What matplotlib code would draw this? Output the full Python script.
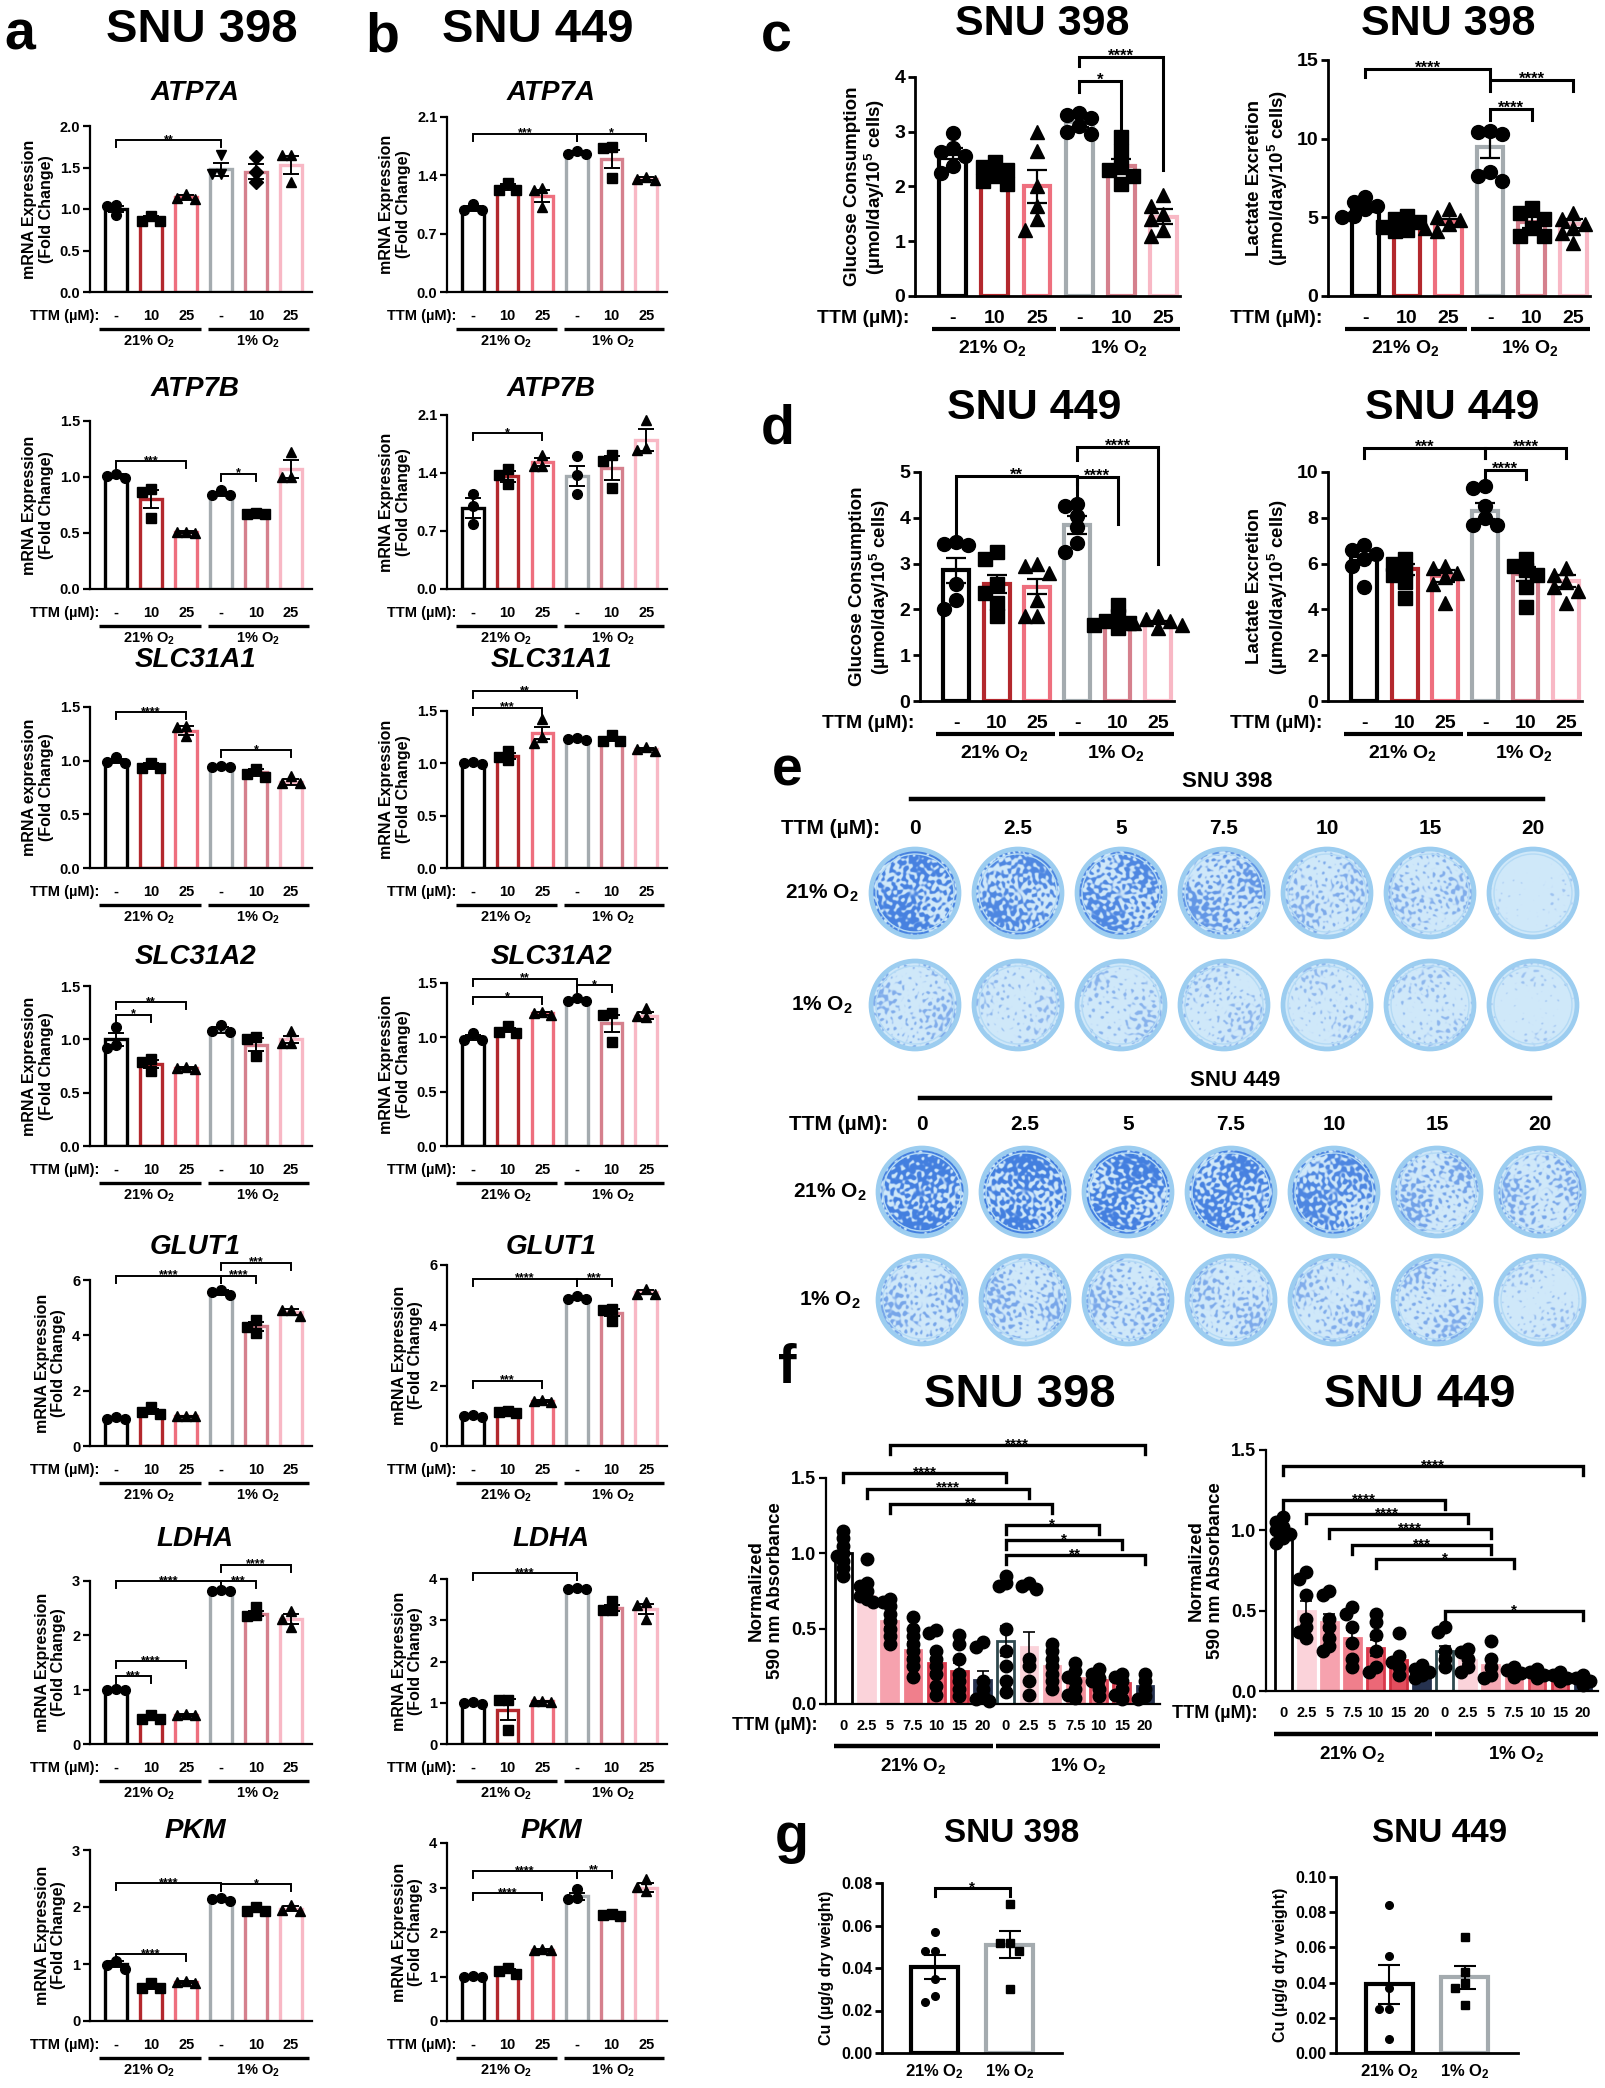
import numpy as np
import matplotlib
matplotlib.use("Agg")
import matplotlib.pyplot as plt
import matplotlib.transforms as mtrans
from matplotlib.patches import Circle
from matplotlib.colors import to_rgb

W, H = 1605, 2088
WIDE = ['Liberation Sans', 'DejaVu Sans']
NARROW = WIDE
plt.rcParams['font.family'] = WIDE
plt.rcParams['font.weight'] = 'bold'
plt.rcParams['axes.labelweight'] = 'bold'
plt.rcParams['mathtext.default'] = 'regular'

# ======================= DATA =======================
ttm_mrna = ['-', '10', '25', '-', '10', '25']
o2_labels = ['21% O$_2$', '1% O$_2$']
ttm_doses = ['0', '2.5', '5', '7.5', '10', '15', '20']

# ---- panel a: SNU 398 ----
atp7a_398_mean = [1.00, 0.88, 1.14, 1.48, 1.45, 1.53]
atp7a_398_sem = [0.04, 0.03, 0.03, 0.08, 0.09, 0.11]
atp7a_398_pts = [[1.05, 1.04, 0.93], [0.92, 0.86, 0.86], [1.18, 1.13, 1.12],
                 [1.65, 1.42, 1.42], [1.63, 1.45, 1.33], [1.65, 1.65, 1.33]]
atp7a_398_sig = [(0, 3, 1.83, '**')]

atp7b_398_mean = [1.01, 0.80, 0.51, 0.85, 0.67, 1.07]
atp7b_398_sem = [0.02, 0.08, 0.01, 0.02, 0.01, 0.08]
atp7b_398_pts = [[1.03, 1.01, 0.99], [0.89, 0.87, 0.63], [0.51, 0.51, 0.50],
                 [0.88, 0.84, 0.84], [0.68, 0.67, 0.67], [1.22, 1.00, 1.00]]
atp7b_398_sig = [(0, 2, 1.14, '***'), (3, 4, 1.03, '*')]

slc31a1_398_mean = [1.00, 0.95, 1.28, 0.94, 0.89, 0.80]
slc31a1_398_sem = [0.02, 0.03, 0.04, 0.01, 0.03, 0.03]
slc31a1_398_pts = [[1.03, 0.99, 0.98], [0.98, 0.93, 0.93], [1.32, 1.31, 1.23],
                   [0.95, 0.94, 0.94], [0.92, 0.88, 0.85], [0.86, 0.79, 0.79]]
slc31a1_398_sig = [(0, 2, 1.45, '****'), (3, 5, 1.10, '*')]

slc31a2_398_mean = [1.00, 0.77, 0.73, 1.09, 0.95, 1.00]
slc31a2_398_sem = [0.06, 0.04, 0.01, 0.03, 0.06, 0.03]
slc31a2_398_pts = [[1.12, 0.95, 0.92], [0.82, 0.79, 0.70], [0.74, 0.73, 0.72],
                   [1.13, 1.08, 1.07], [1.02, 1.00, 0.84], [1.08, 0.97, 0.97]]
slc31a2_398_sig = [(0, 2, 1.35, '**'), (0, 1, 1.23, '*')]

glut1_398_mean = [1.00, 1.25, 1.07, 5.55, 4.32, 4.85]
glut1_398_sem = [0.03, 0.08, 0.02, 0.08, 0.15, 0.10]
glut1_398_pts = [[1.05, 0.98, 0.97], [1.40, 1.22, 1.15], [1.10, 1.08, 1.07],
                 [5.65, 5.58, 5.45], [4.55, 4.30, 4.10], [4.92, 4.92, 4.70]]
glut1_398_sig = [(0, 3, 6.15, '****'), (3, 4, 6.15, '****'), (3, 5, 6.62, '***')]

ldha_398_mean = [1.00, 0.48, 0.53, 2.82, 2.40, 2.30]
ldha_398_sem = [0.01, 0.03, 0.02, 0.01, 0.05, 0.10]
ldha_398_pts = [[1.02, 1.00, 0.99], [0.54, 0.46, 0.46], [0.56, 0.53, 0.53],
                [2.83, 2.82, 2.82], [2.53, 2.37, 2.35], [2.45, 2.30, 2.15]]
ldha_398_sig = [(0, 3, 3.0, '****'), (3, 4, 3.0, '***'), (3, 5, 3.3, '****'),
                (0, 2, 1.52, '****'), (0, 1, 1.25, '***')]

pkm_398_mean = [1.00, 0.60, 0.68, 2.13, 1.95, 1.97]
pkm_398_sem = [0.05, 0.03, 0.02, 0.02, 0.03, 0.04]
pkm_398_pts = [[1.05, 0.98, 0.92], [0.66, 0.58, 0.58], [0.70, 0.68, 0.67],
               [2.16, 2.14, 2.10], [2.00, 1.93, 1.93], [2.03, 1.95, 1.93]]
pkm_398_sig = [(0, 3, 2.42, '****'), (3, 5, 2.40, '*'), (0, 2, 1.17, '****')]

# ---- panel b: SNU 449 ----
atp7a_449_mean = [1.00, 1.26, 1.15, 1.67, 1.60, 1.36]
atp7a_449_sem = [0.03, 0.04, 0.07, 0.02, 0.11, 0.02]
atp7a_449_pts = [[1.06, 0.98, 0.98], [1.31, 1.23, 1.22], [1.25, 1.22, 1.02],
                 [1.69, 1.66, 1.66], [1.74, 1.73, 1.37], [1.38, 1.36, 1.34]]
atp7a_449_sig = [(0, 3, 1.90, '***'), (3, 5, 1.90, '*')]

atp7b_449_mean = [0.98, 1.36, 1.53, 1.36, 1.46, 1.80]
atp7b_449_sem = [0.12, 0.07, 0.05, 0.12, 0.15, 0.13]
atp7b_449_pts = [[1.15, 1.00, 0.78], [1.45, 1.37, 1.27], [1.62, 1.49, 1.49],
                 [1.60, 1.37, 1.15], [1.62, 1.55, 1.22], [2.04, 1.70, 1.68]]
atp7b_449_sig = [(0, 2, 1.88, '*')]

slc31a1_449_mean = [1.00, 1.07, 1.29, 1.23, 1.23, 1.14]
slc31a1_449_sem = [0.01, 0.03, 0.06, 0.01, 0.02, 0.01]
slc31a1_449_pts = [[1.01, 1.00, 0.99], [1.12, 1.06, 1.03], [1.42, 1.25, 1.19],
                   [1.24, 1.23, 1.22], [1.27, 1.21, 1.21], [1.16, 1.14, 1.12]]
slc31a1_449_sig = [(0, 3, 1.69, '**'), (0, 2, 1.53, '***')]

slc31a2_449_mean = [1.00, 1.07, 1.22, 1.34, 1.13, 1.20]
slc31a2_449_sem = [0.02, 0.02, 0.01, 0.01, 0.08, 0.03]
slc31a2_449_pts = [[1.04, 0.98, 0.98], [1.10, 1.05, 1.04], [1.23, 1.22, 1.21],
                   [1.36, 1.33, 1.33], [1.22, 1.21, 0.96], [1.27, 1.20, 1.19]]
slc31a2_449_sig = [(0, 3, 1.54, '**'), (0, 2, 1.37, '*'), (3, 4, 1.48, '*')]

glut1_449_mean = [0.98, 1.13, 1.48, 4.90, 4.42, 5.10]
glut1_449_sem = [0.03, 0.02, 0.03, 0.05, 0.12, 0.06]
glut1_449_pts = [[1.02, 0.98, 0.95], [1.15, 1.12, 1.10], [1.52, 1.48, 1.45],
                 [4.97, 4.88, 4.86], [4.55, 4.50, 4.15], [5.20, 5.05, 5.05]]
glut1_449_sig = [(0, 3, 5.55, '****'), (3, 4, 5.55, '***'), (0, 2, 2.16, '***')]

ldha_449_mean = [1.00, 0.83, 1.04, 3.76, 3.30, 3.27]
ldha_449_sem = [0.02, 0.25, 0.01, 0.02, 0.08, 0.12]
ldha_449_pts = [[1.02, 1.00, 0.98], [1.07, 1.06, 0.33], [1.05, 1.04, 1.03],
                [3.78, 3.76, 3.75], [3.47, 3.25, 3.25], [3.45, 3.36, 3.02]]
ldha_449_sig = [(0, 3, 4.14, '****')]

pkm_449_mean = [1.00, 1.12, 1.60, 2.80, 2.38, 3.00]
pkm_449_sem = [0.01, 0.05, 0.02, 0.08, 0.01, 0.10]
pkm_449_pts = [[1.01, 1.00, 0.99], [1.18, 1.13, 1.05], [1.62, 1.60, 1.59],
               [2.97, 2.76, 2.74], [2.40, 2.39, 2.37], [3.18, 3.02, 2.92]]
pkm_449_sig = [(0, 3, 3.36, '****'), (3, 4, 3.38, '**'), (0, 2, 2.87, '****')]

# ---- panel c: SNU 398 glucose / lactate ----
glc_398_mean = [2.60, 2.25, 2.00, 3.17, 2.38, 1.45]
glc_398_sem = [0.10, 0.10, 0.30, 0.08, 0.13, 0.13]
glc_398_pts = [[2.97, 2.70, 2.63, 2.55, 2.38, 2.25], [2.45, 2.35, 2.30, 2.20, 2.10, 2.05],
               [3.00, 2.65, 2.00, 1.65, 1.40, 1.20], [3.35, 3.30, 3.25, 3.10, 3.00, 2.95],
               [2.90, 2.65, 2.35, 2.30, 2.20, 2.05], [1.85, 1.65, 1.50, 1.40, 1.20, 1.10]]
glc_398_sig = [(3, 4, 3.92, '*', 3.72, 3.0), (3, 5, 4.37, '****', 4.2, 2.3)]

lac_398_mean = [5.60, 4.70, 4.70, 9.50, 4.70, 4.60]
lac_398_sem = [0.25, 0.20, 0.20, 0.70, 0.35, 0.30]
lac_398_pts = [[6.3, 6.0, 5.7, 5.5, 5.1, 5.0], [5.1, 4.9, 4.7, 4.4, 4.2, 4.1],
               [5.5, 5.0, 4.8, 4.6, 4.3, 4.1], [10.5, 10.4, 10.3, 7.9, 7.6, 7.3],
               [5.6, 5.3, 4.9, 4.3, 3.8, 3.8], [5.3, 4.9, 4.6, 4.3, 4.0, 3.4]]
lac_398_sig = [(0, 3, 14.45, '****', 13.9, 13.9), (3, 5, 13.7, '****', 13.0, 13.0),
               (3, 4, 11.9, '****', 11.2, 11.2)]

# ---- panel d: SNU 449 glucose / lactate ----
glc_449_mean = [2.85, 2.55, 2.50, 3.85, 1.75, 1.72]
glc_449_sem = [0.27, 0.20, 0.17, 0.20, 0.05, 0.03]
glc_449_pts = [[3.47, 3.43, 3.40, 2.55, 2.20, 2.00], [3.25, 3.10, 2.55, 2.35, 2.15, 1.85],
               [3.00, 2.95, 2.80, 2.20, 1.85, 1.85], [4.30, 4.25, 4.05, 3.80, 3.45, 3.25],
               [2.10, 1.85, 1.75, 1.70, 1.65, 1.60], [1.85, 1.80, 1.75, 1.70, 1.65, 1.60]]
glc_449_sig = [(0, 3, 4.91, '**', 3.53, 4.4), (3, 4, 4.89, '****', 4.73, 3.86),
               (3, 5, 5.54, '****', 5.27, 2.99)]

lac_449_mean = [6.35, 5.75, 5.45, 8.30, 5.55, 5.25]
lac_449_sem = [0.20, 0.25, 0.25, 0.35, 0.30, 0.25]
lac_449_pts = [[6.8, 6.6, 6.4, 6.2, 5.9, 5.0], [6.2, 6.0, 5.7, 5.5, 5.2, 4.5],
               [5.9, 5.8, 5.6, 5.4, 5.1, 4.3], [9.4, 9.3, 8.5, 8.0, 7.7, 7.7],
               [6.2, 5.9, 5.7, 5.5, 5.0, 4.1], [5.8, 5.5, 5.2, 5.0, 4.8, 4.3]]
lac_449_sig = [(0, 3, 11.03, '***', 10.6, 10.6), (3, 5, 11.03, '****', 10.6, 10.6),
               (3, 4, 10.1, '****', 9.7, 9.7)]

# ---- panel e: colony stain coverage (0 = clear, 1 = fully stained) ----
stain_398_21 = [0.60, 0.55, 0.55, 0.42, 0.24, 0.22, 0.02]
stain_398_1 = [0.22, 0.14, 0.17, 0.16, 0.12, 0.13, 0.04]
stain_449_21 = [0.70, 0.64, 0.64, 0.60, 0.56, 0.32, 0.28]
stain_449_1 = [0.28, 0.28, 0.26, 0.24, 0.22, 0.24, 0.10]

# ---- panel f: normalized absorbance ----
abs_398_mean = [1.00, 0.72, 0.55, 0.36, 0.27, 0.22, 0.16, 0.42, 0.38, 0.25, 0.17, 0.16, 0.14, 0.12]
abs_398_sem = [0.04, 0.03, 0.04, 0.05, 0.06, 0.05, 0.06, 0.10, 0.10, 0.05, 0.03, 0.03, 0.03, 0.02]
abs_398_pts = [[1.15, 1.10, 1.05, 1.00, 0.98, 0.95, 0.90, 0.85],
               [0.96, 0.80, 0.78, 0.75, 0.72, 0.70, 0.68],
               [0.70, 0.68, 0.65, 0.60, 0.55, 0.50, 0.45, 0.40],
               [0.58, 0.50, 0.45, 0.40, 0.35, 0.30, 0.25, 0.18],
               [0.49, 0.47, 0.35, 0.30, 0.25, 0.20, 0.12, 0.06],
               [0.46, 0.40, 0.30, 0.20, 0.15, 0.10, 0.05],
               [0.41, 0.38, 0.15, 0.10, 0.05, 0.03, 0.02],
               [0.85, 0.80, 0.78, 0.50, 0.35, 0.25, 0.15, 0.08],
               [0.80, 0.78, 0.76, 0.30, 0.25, 0.15, 0.06],
               [0.40, 0.35, 0.30, 0.25, 0.20, 0.15, 0.10],
               [0.27, 0.22, 0.18, 0.15, 0.10, 0.06, 0.04],
               [0.23, 0.20, 0.17, 0.15, 0.10, 0.05],
               [0.20, 0.18, 0.15, 0.10, 0.06, 0.03],
               [0.20, 0.15, 0.10, 0.05, 0.03]]
abs_398_sig = [(2, 13, 1.72, '****'), (0, 7, 1.53, '****'), (1, 8, 1.43, '****'),
               (2, 9, 1.33, '**'), (7, 11, 1.19, '*'), (7, 12, 1.09, '*'), (7, 13, 0.99, '**')]

abs_449_mean = [1.00, 0.50, 0.43, 0.33, 0.27, 0.19, 0.12, 0.25, 0.19, 0.16, 0.11, 0.10, 0.09, 0.07]
abs_449_sem = [0.02, 0.06, 0.05, 0.05, 0.05, 0.03, 0.02, 0.03, 0.02, 0.03, 0.01, 0.01, 0.01, 0.01]
abs_449_pts = [[1.08, 1.05, 1.02, 1.00, 0.98, 0.95, 0.92],
               [0.74, 0.70, 0.60, 0.45, 0.40, 0.37, 0.33],
               [0.62, 0.60, 0.45, 0.40, 0.33, 0.28, 0.25],
               [0.52, 0.48, 0.40, 0.30, 0.20, 0.15],
               [0.48, 0.43, 0.35, 0.25, 0.15, 0.12],
               [0.36, 0.22, 0.18, 0.15, 0.10],
               [0.16, 0.14, 0.12, 0.10, 0.08],
               [0.40, 0.37, 0.25, 0.20, 0.15],
               [0.26, 0.24, 0.20, 0.15, 0.12],
               [0.31, 0.20, 0.15, 0.10, 0.08],
               [0.15, 0.13, 0.11, 0.09],
               [0.14, 0.12, 0.10, 0.08],
               [0.12, 0.10, 0.08, 0.06],
               [0.10, 0.08, 0.06, 0.04]]
abs_449_sig = [(0, 13, 1.40, '****'), (0, 7, 1.19, '****'), (1, 8, 1.10, '****'),
               (2, 9, 1.01, '****'), (3, 9, 0.91, '***'), (4, 10, 0.82, '*'), (7, 13, 0.50, '*')]

# ---- panel g: copper content ----
cu_398_mean = [0.0405, 0.0510]
cu_398_sem = [0.0055, 0.0065]
cu_398_pts = [[0.057, 0.048, 0.048, 0.035, 0.027, 0.024], [0.070, 0.052, 0.052, 0.048, 0.030]]
cu_398_sig = [(0, 1, 0.0775, '*')]

cu_449_mean = [0.039, 0.043]
cu_449_sem = [0.011, 0.0065]
cu_449_pts = [[0.084, 0.055, 0.037, 0.025, 0.025, 0.008], [0.066, 0.046, 0.040, 0.037, 0.027]]
cu_449_sig = []

# ======================= STYLE =======================
MRNA_EDGE = ['#000000', '#B3282D', '#EE6F7E', '#A4ABAF', '#D5808D', '#F8B8C5']
F_FACE = ['white', '#FBD3DA', '#F6A2AE', '#F07F8C', '#EC6877', '#E34E5E', '#26324F',
          'white', '#FBD3DA', '#F6A9B4', '#F28F9B', '#EE7B88', '#EA6A79', '#26324F']
F_EDGE = ['#000000', '#FBD3DA', '#F6A2AE', '#F07F8C', '#D9384B', '#D03040', '#26324F',
          '#2F4A4F', '#FBD3DA', '#F6A9B4', '#F28F9B', '#E0485A', '#D83A4C', '#26324F']
MARK6 = ['o', 's', '^', 'o', 's', '^']

fig = plt.figure(figsize=(W / 100, H / 100), dpi=100)
ax0 = fig.add_axes([0, 0, 1, 1])
ax0.axis('off')


def fy(y):
    return 1 - y / H


def T(x, y, s, size, family=WIDE, **kw):
    kw.setdefault('ha', 'center')
    kw.setdefault('va', 'center')
    fig.text(x / W, fy(y), s, fontsize=size, fontweight='bold', family=family, **kw)


def px_ax(x0, ytop, x1, yzero):
    ax = fig.add_axes([x0 / W, fy(yzero), (x1 - x0) / W, (yzero - ytop) / H])
    ax.patch.set_alpha(0)
    return ax


def swarm(vals, center, sx, sy, d):
    vals = np.asarray(vals, float)
    order = np.argsort(-vals, kind='stable')
    placed = []
    xs = np.zeros(len(vals))
    for k in order:
        y = vals[k] * sy
        off = 0.0
        for m in range(40):
            off = 0.0 if m == 0 else ((m + 1) // 2) * d * (1 if m % 2 == 0 else -1)
            if all(abs(off - po) >= d * 0.98 or abs(y - pyy) >= d * 0.95 for po, pyy in placed):
                break
        placed.append((off, y))
        xs[k] = center + off / sx
    return xs


def style_axes(ax, ticks, labels, tsize, lw=1.6, family=NARROW):
    ax.set_ylim(0, ticks[-1])
    for s in ['top', 'right']:
        ax.spines[s].set_visible(False)
    ax.spines['left'].set_linewidth(lw)
    ax.spines['bottom'].set_linewidth(lw)
    ax.set_xticks([])
    ax.set_yticks(ticks)
    ax.set_yticklabels(labels, fontsize=tsize, fontweight='bold', family=family)
    ax.tick_params(axis='y', direction='out', length=5, width=lw, pad=2)


def bracket(ax, i, j, y, s, yi, yj, fs, lw=1.4):
    ax.plot([i, i, j, j], [yi, y, y, yj], color='black', lw=lw, clip_on=False, zorder=5,
            solid_joinstyle='miter')
    ax.annotate(s, xy=((i + j) / 2, y), xytext=(0, -0.22 * fs), textcoords='offset points',
                ha='center', va='baseline', fontsize=fs, fontweight='bold',
                annotation_clip=False, family=WIDE)


def under_row(ax, yzero, d_ttm, d_line, d_lab, pos, labels, fs, ttm_x, lines, labpos,
              lw=2.4, family=NARROW, ttm_fs=None, lab_fs=None):
    bl = mtrans.blended_transform_factory(ax.transData, fig.transFigure)
    for p, lab in zip(pos, labels):
        ax.text(p, fy(yzero + d_ttm), lab, transform=bl, ha='center', va='center',
                fontsize=fs, fontweight='bold', family=family)
    T(ttm_x, yzero + d_ttm, 'TTM (µM):', ttm_fs or fs, family=family, ha='right')
    for (a, b) in lines:
        ax.plot([a, b], [fy(yzero + d_line)] * 2, transform=bl, color='black', lw=lw,
                clip_on=False, solid_capstyle='butt')
    for p, lab in zip(labpos, o2_labels):
        ax.text(p, fy(yzero + d_lab), lab, transform=bl, ha='center', va='center',
                fontsize=lab_fs or fs, fontweight='bold', family=family)


def mrna_panel(x0, x1, ytop, yzero, ty, title, ylabel, mean, sem, pts, sig, ticks, labels,
               markers=MARK6):
    ax = px_ax(x0, ytop, x1, yzero)
    ax.set_xlim(-0.75, 5.6)
    style_axes(ax, ticks, labels, 10.5)
    top = ticks[-1]
    sx = (x1 - x0) / 6.35
    sy = (yzero - ytop) / top
    ms = 7
    for i in range(6):
        ax.bar(i, mean[i], 0.62, facecolor='white', edgecolor=MRNA_EDGE[i], linewidth=2.4, zorder=2)
        xs = swarm(pts[i], i, sx, sy, ms * 1.39 * 0.9)
        ax.plot(xs, pts[i], ls='none', marker=markers[i], ms=ms, mfc='black', mec='black',
                zorder=3, clip_on=False)
        ax.errorbar(i, mean[i], yerr=sem[i], fmt='none', ecolor='black', elinewidth=1.4,
                    capsize=6, capthick=1.4, zorder=4)
    leg = 7 / sy
    for (i, j, y, s) in sig:
        bracket(ax, i, j, y, s, y - leg, y - leg, 9)
    ax.set_ylabel(ylabel, fontsize=11.5, fontweight='bold', labelpad=4, linespacing=1.15)
    T((x0 + x1) / 2 - 6, ty, title, 20, style='italic')
    under_row(ax, yzero, 24, 37, 50, range(6), ttm_mrna, 10.5, x0 + 9,
              [(-0.5, 2.42), (2.62, 5.52)], [0.95, 4.05])
    return ax


# ---------------- column titles ----------------
T(20, 36, 'a', 40)
T(202, 30, 'SNU 398', 34)
T(382, 38, 'b', 40)
T(538, 30, 'SNU 449', 34)

COL_A = (90, 312)
COL_B = (447, 667)
genes = ['ATP7A', 'ATP7B', 'SLC31A1', 'SLC31A2', 'GLUT1', 'LDHA', 'PKM']
top_a = [126, 421, 707, 986, 1280, 1581, 1850]
top_b = [117, 415, 711, 983, 1265, 1579, 1843]
zeros = [292, 589, 868, 1146, 1446, 1744, 2021]
title_y = [93, 389, 660, 957, 1247, 1539, 1831]

ylab = 'mRNA Expression\n(Fold Change)'
t15 = ([0, 0.5, 1.0, 1.5], ['0.0', '0.5', '1.0', '1.5'])
t20 = ([0, 0.5, 1.0, 1.5, 2.0], ['0.0', '0.5', '1.0', '1.5', '2.0'])
t21 = ([0, 0.7, 1.4, 2.1], ['0.0', '0.7', '1.4', '2.1'])
t6 = ([0, 2, 4, 6], ['0', '2', '4', '6'])
t3 = ([0, 1, 2, 3], ['0', '1', '2', '3'])
t4 = ([0, 1, 2, 3, 4], ['0', '1', '2', '3', '4'])

specs_a = [
    (atp7a_398_mean, atp7a_398_sem, atp7a_398_pts, atp7a_398_sig, t20, ylab, ['o', 's', '^', 'v', 'D', '^']),
    (atp7b_398_mean, atp7b_398_sem, atp7b_398_pts, atp7b_398_sig, t15, ylab, MARK6),
    (slc31a1_398_mean, slc31a1_398_sem, slc31a1_398_pts, slc31a1_398_sig, t15, 'mRNA expression\n(Fold Change)', MARK6),
    (slc31a2_398_mean, slc31a2_398_sem, slc31a2_398_pts, slc31a2_398_sig, t15, ylab, MARK6),
    (glut1_398_mean, glut1_398_sem, glut1_398_pts, glut1_398_sig, t6, ylab, MARK6),
    (ldha_398_mean, ldha_398_sem, ldha_398_pts, ldha_398_sig, t3, ylab, MARK6),
    (pkm_398_mean, pkm_398_sem, pkm_398_pts, pkm_398_sig, t3, ylab, MARK6),
]
specs_b = [
    (atp7a_449_mean, atp7a_449_sem, atp7a_449_pts, atp7a_449_sig, t21, ylab, MARK6),
    (atp7b_449_mean, atp7b_449_sem, atp7b_449_pts, atp7b_449_sig, t21, ylab, MARK6),
    (slc31a1_449_mean, slc31a1_449_sem, slc31a1_449_pts, slc31a1_449_sig, t15, ylab, MARK6),
    (slc31a2_449_mean, slc31a2_449_sem, slc31a2_449_pts, slc31a2_449_sig, t15, ylab, MARK6),
    (glut1_449_mean, glut1_449_sem, glut1_449_pts, glut1_449_sig, t6, ylab, MARK6),
    (ldha_449_mean, ldha_449_sem, ldha_449_pts, ldha_449_sig, t4, ylab, MARK6),
    (pkm_449_mean, pkm_449_sem, pkm_449_pts, pkm_449_sig, t4, ylab, MARK6),
]
for r in range(7):
    m, s, p, sg, tk, yl, mk = specs_a[r]
    mrna_panel(COL_A[0], COL_A[1], top_a[r], zeros[r], title_y[r], genes[r], yl, m, s, p, sg,
               tk[0], tk[1], mk)
    m, s, p, sg, tk, yl, mk = specs_b[r]
    mrna_panel(COL_B[0], COL_B[1], top_b[r], zeros[r], title_y[r], genes[r], yl, m, s, p, sg,
               tk[0], tk[1], mk)


# ---------------- panels c, d ----------------
def met_panel(x0, x1, ytop, yzero, ylabel, mean, sem, pts, sig, ticks, labels):
    ax = px_ax(x0, ytop, x1, yzero)
    ax.set_xlim(-0.9, 5.4)
    style_axes(ax, ticks, labels, 14, lw=2.0, family=WIDE)
    sx = (x1 - x0) / 6.3
    sy = (yzero - ytop) / ticks[-1]
    ms = 10
    for i in range(6):
        ax.bar(i, mean[i], 0.64, facecolor='white', edgecolor=MRNA_EDGE[i], linewidth=3.0, zorder=2)
        xs = swarm(pts[i], i, sx, sy, ms * 1.39 * 0.85)
        ax.plot(xs, pts[i], ls='none', marker=MARK6[i], ms=ms, mfc='black', mec='black',
                zorder=3, clip_on=False)
        ax.errorbar(i, mean[i], yerr=sem[i], fmt='none', ecolor='black', elinewidth=1.6,
                    capsize=7, capthick=1.6, zorder=4)
    for (i, j, y, s, yi, yj) in sig:
        bracket(ax, i, j, y, s, yi, yj, 12, lw=2.2)
    ax.set_ylabel(ylabel, fontsize=13.5, fontweight='bold', labelpad=5, linespacing=1.15)
    under_row(ax, yzero, 22, 33, 52, range(6), ttm_mrna, 14, x0 - 6,
              [(-0.5, 2.45), (2.55, 5.4)], [0.95, 3.95], lw=3.0, family=WIDE)
    return ax


glc_lab = 'Glucose Consumption\n(µmol/day/10$^5$ cells)'
lac_lab = 'Lactate Excretion\n(µmol/day/10$^5$ cells)'
T(776, 38, 'c', 40)
T(1042, 24, 'SNU 398', 31)
T(1448, 24, 'SNU 398', 31)
met_panel(915, 1180, 77, 296, glc_lab, glc_398_mean, glc_398_sem, glc_398_pts, glc_398_sig,
          [0, 1, 2, 3, 4], ['0', '1', '2', '3', '4'])
met_panel(1328, 1590, 60, 296, lac_lab, lac_398_mean, lac_398_sem, lac_398_pts, lac_398_sig,
          [0, 5, 10, 15], ['0', '5', '10', '15'])

T(778, 430, 'd', 40)
T(1034, 408, 'SNU 449', 31)
T(1452, 408, 'SNU 449', 31)
met_panel(920, 1174, 472, 701, glc_lab, glc_449_mean, glc_449_sem, glc_449_pts, glc_449_sig,
          [0, 1, 2, 3, 4, 5], ['0', '1', '2', '3', '4', '5'])
met_panel(1328, 1582, 472, 701, lac_lab, lac_449_mean, lac_449_sem, lac_449_pts, lac_449_sig,
          [0, 2, 4, 6, 8, 10], ['0', '2', '4', '6', '8', '10'])

# ---------------- panel e ----------------
PLATE_BG = np.array(to_rgb('#D6EDFB'))
PLATE_INK = np.array(to_rgb('#3A78DE'))


def plate(cx, cy, r, cover, idx):
    n = int(2 * r) * 2
    u = np.linspace(-r, r, n)
    U, V = np.meshgrid(u, u)
    # deterministic band-limited texture from many plane waves (stain look only, not data)
    f = np.zeros_like(U)
    nw = 26
    for k in range(nw):
        th = k * 2.39996323 + idx * 0.513
        fr = 0.55 + 0.75 * ((k * 0.6180339 + idx * 0.2718) % 1.0)
        ph = (k * 1.7320508 + idx * 2.2360679) % (2 * np.pi)
        f += np.cos(fr * (U * np.cos(th) + V * np.sin(th)) + ph)
    f /= np.sqrt(nw / 2)
    g = np.zeros_like(U)
    for k in range(6):
        th = k * 1.1 + idx * 0.7
        g += np.cos(0.09 * (U * np.cos(th) + V * np.sin(th)) + k * 1.9 + idx)
    g /= np.sqrt(3)
    rr = np.sqrt(U ** 2 + V ** 2)
    f = f + 0.45 * g + 0.5 * (rr / r) ** 4
    inside = rr <= r
    thr = np.quantile(f[inside], 1 - max(cover, 0.005))
    dens = 1 / (1 + np.exp(-(f - thr) * 6.0))
    a = 0.04 + dens * (0.30 + 0.60 * min(1.0, cover * 1.6))
    img = PLATE_BG[None, None, :] * (1 - a[..., None]) + PLATE_INK[None, None, :] * a[..., None]
    circ = Circle((cx, cy), r, transform=ax0.transData, facecolor='none', edgecolor='none')
    ax0.add_patch(circ)
    im = ax0.imshow(img, extent=(cx - r, cx + r, cy + r, cy - r), interpolation='bilinear',
                    zorder=2, aspect='auto')
    im.set_clip_path(circ)
    ax0.add_patch(Circle((cx, cy), r, facecolor='none', edgecolor='#9CCDF0', lw=3.4, zorder=3))
    ax0.add_patch(Circle((cx, cy), r - 5, facecolor='none', edgecolor='#B4DAF5', lw=1.0, zorder=3))


def plate_block(title, title_y, line, ttm_y, ttm_x, xs, rows_y, row_lab_x, rows, base_idx):
    T((line[0] + line[1]) / 2, title_y, title, 16)
    ax0.plot([line[0], line[1]], [title_y + 17, title_y + 17], color='black', lw=3.2)
    T(ttm_x, ttm_y, 'TTM (µM):', 15, ha='right')
    for x, d in zip(xs, ttm_doses):
        T(x, ttm_y, d, 15)
    for ri, (ry, lab, vals) in enumerate(zip(rows_y, o2_labels, rows)):
        T(row_lab_x, ry, lab, 15)
        for ci, (x, v) in enumerate(zip(xs, vals)):
            plate(x, ry, 44, v, base_idx + ri * 7 + ci)


T(787, 772, 'e', 40)
plate_block('SNU 398', 782, (911, 1543), 828, 880, [915 + 103 * i for i in range(7)], [893, 1005],
            822, [stain_398_21, stain_398_1], 0)
plate_block('SNU 449', 1081, (920, 1550), 1125, 888, [922 + 103 * i for i in range(7)],
            [1192, 1300], 830, [stain_449_21, stain_449_1], 14)
ax0.set_xlim(0, W)
ax0.set_ylim(H, 0)


# ---------------- panel f ----------------
def f_panel(x0, x1, ytop, yzero, mean, sem, pts, sig, d_ttm, d_line, d_lab, ttm_x):
    ax = px_ax(x0, ytop, x1, yzero)
    ax.set_xlim(-0.75, 13.65)
    style_axes(ax, [0, 0.5, 1.0, 1.5], ['0.0', '0.5', '1.0', '1.5'], 13)
    sx = (x1 - x0) / 14.4
    sy = (yzero - ytop) / 1.5
    ms = 9
    for i in range(14):
        ax.bar(i, mean[i], 0.72, facecolor=F_FACE[i], edgecolor=F_EDGE[i], linewidth=2.0, zorder=2)
        xs = swarm(pts[i], i, sx, sy, ms * 1.39 * 0.55)
        ax.plot(xs, pts[i], ls='none', marker='o', ms=ms, mfc='black', mec='black', zorder=3,
                clip_on=False)
        ax.errorbar(i, mean[i], yerr=sem[i], fmt='none', ecolor='black', elinewidth=1.2,
                    capsize=4, capthick=1.2, zorder=4)
    leg = 9 / sy
    for (i, j, y, s) in sig:
        bracket(ax, i, j, y, s, y - leg, y - leg, 11, lw=2.4)
    ax.set_ylabel('Normalized\n590 nm Absorbance', fontsize=13.5, fontweight='bold', labelpad=5,
                  linespacing=1.15)
    under_row(ax, yzero, d_ttm, d_line, d_lab, range(14), ttm_doses * 2, 10.5, ttm_x,
              [(-0.4, 6.45), (6.6, 13.65)], [3.0, 10.1], lw=3.2, ttm_fs=13, lab_fs=13.5)
    return ax


T(787, 1369, 'f', 40)
T(1020, 1395, 'SNU 398', 34)
T(1420, 1395, 'SNU 449', 34)
f_panel(826, 1160, 1478, 1704, abs_398_mean, abs_398_sem, abs_398_pts, abs_398_sig, 22, 42, 62, 818)
f_panel(1266, 1598, 1450, 1691, abs_449_mean, abs_449_sem, abs_449_pts, abs_449_sig, 22, 43, 63, 1258)


# ---------------- panel g ----------------
def g_panel(x0, x1, ytop, yzero, mean, sem, pts, sig, ticks, labels):
    ax = px_ax(x0, ytop, x1, yzero)
    ax.set_xlim(-0.7, 1.7)
    style_axes(ax, ticks, labels, 11.5, lw=2.0)
    sx = (x1 - x0) / 2.4
    sy = (yzero - ytop) / ticks[-1]
    ms = 5.5
    edges = ['#000000', '#A4ABAF']
    for i in range(2):
        ax.bar(i, mean[i], 0.62, facecolor='white', edgecolor=edges[i], linewidth=3.0, zorder=2)
        xs = swarm(pts[i], i, sx, sy, ms * 1.39 * 1.3)
        ax.plot(xs, pts[i], ls='none', marker=['o', 's'][i], ms=ms, mfc='black', mec='black',
                zorder=3)
        ax.errorbar(i, mean[i], yerr=sem[i], fmt='none', ecolor='black', elinewidth=1.5,
                    capsize=8, capthick=1.5, zorder=4)
    leg = 8 / sy
    for (i, j, y, s) in sig:
        bracket(ax, i, j, y, s, y - leg, y - leg, 11, lw=2.2)
    ax.set_ylabel('Cu (µg/g dry weight)', fontsize=11.5, fontweight='bold', labelpad=5)
    bl = mtrans.blended_transform_factory(ax.transData, fig.transFigure)
    for i, lab in enumerate(o2_labels):
        ax.text(i, fy(yzero + 19), lab, transform=bl, ha='center', va='center', fontsize=12,
                fontweight='bold', family=NARROW)
    return ax


T(792, 1838, 'g', 40)
T(1012, 1833, 'SNU 398', 24)
T(1440, 1833, 'SNU 449', 24)
g_panel(882, 1062, 1883, 2053, cu_398_mean, cu_398_sem, cu_398_pts, cu_398_sig,
        [0, 0.02, 0.04, 0.06, 0.08], ['0.00', '0.02', '0.04', '0.06', '0.08'])
g_panel(1336, 1518, 1877, 2053, cu_449_mean, cu_449_sem, cu_449_pts, cu_449_sig,
        [0, 0.02, 0.04, 0.06, 0.08, 0.10], ['0.00', '0.02', '0.04', '0.06', '0.08', '0.10'])

fig.savefig('out.png', dpi=100, facecolor='white')
